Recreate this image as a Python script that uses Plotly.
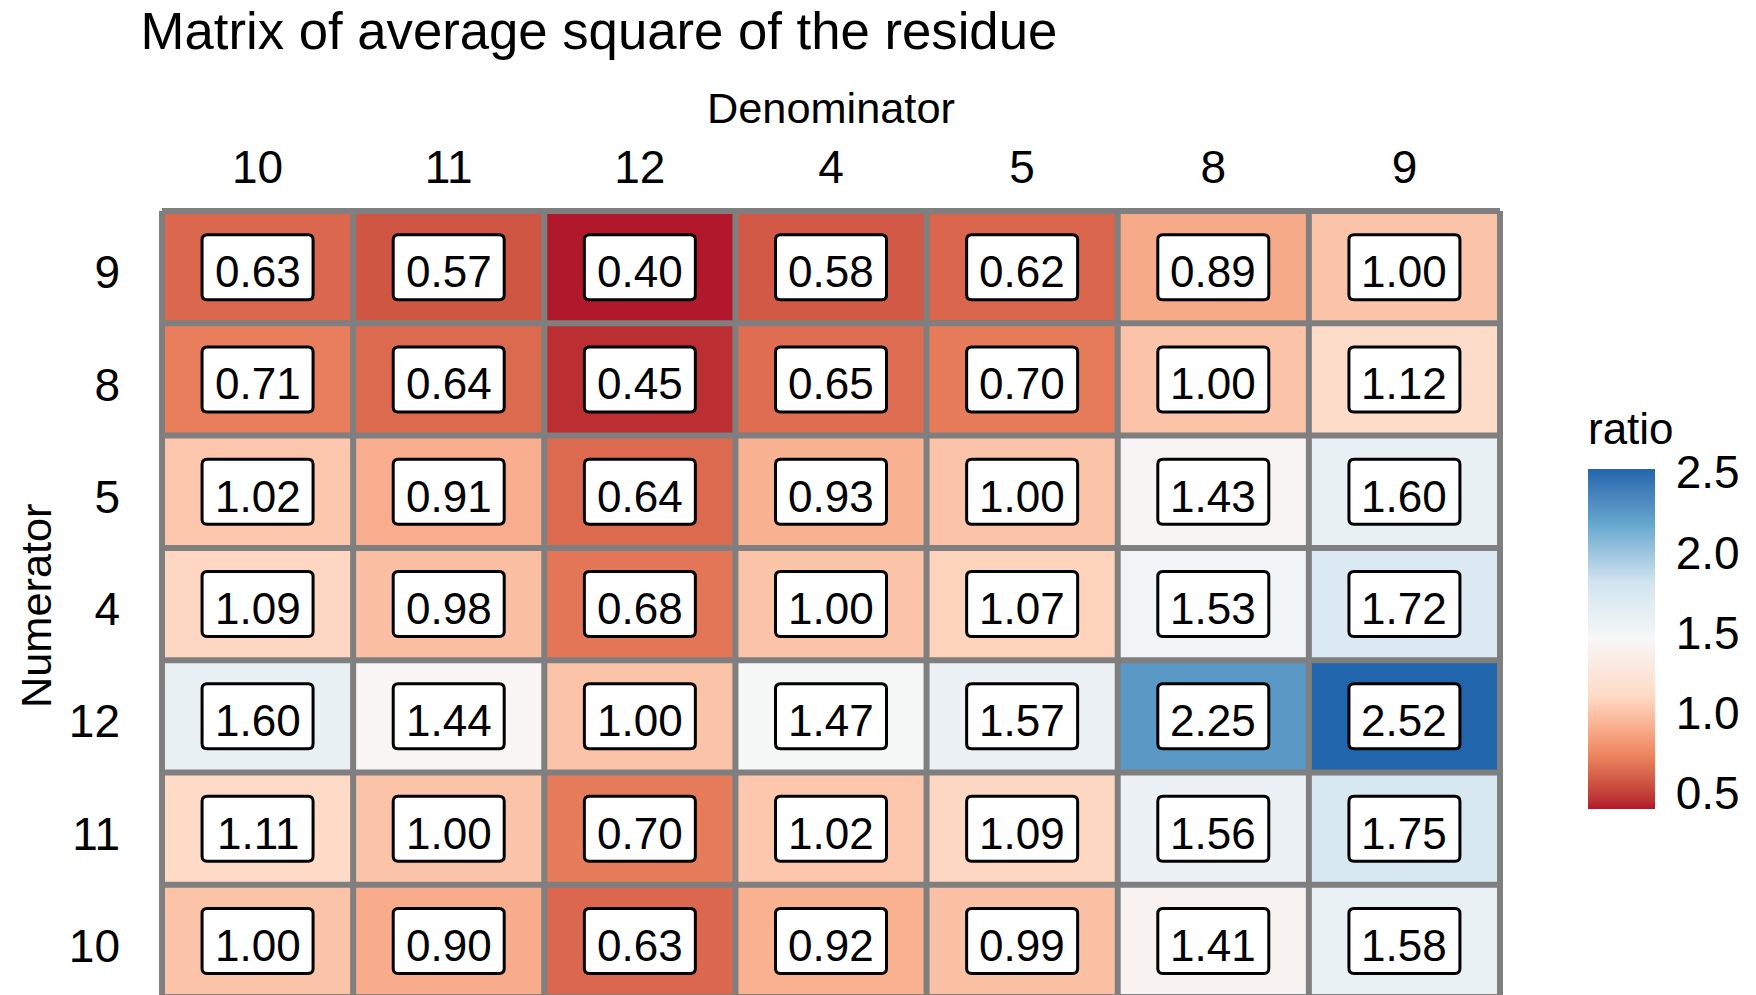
import numpy as np
import plotly.graph_objects as go

# ---------------- data ----------------
denominators = ["10", "11", "12", "4", "5", "8", "9"]
numerators = ["9", "8", "5", "4", "12", "11", "10"]  # top to bottom

row_9 = [0.63, 0.57, 0.40, 0.58, 0.62, 0.89, 1.00]
row_8 = [0.71, 0.64, 0.45, 0.65, 0.70, 1.00, 1.12]
row_5 = [1.02, 0.91, 0.64, 0.93, 1.00, 1.43, 1.60]
row_4 = [1.09, 0.98, 0.68, 1.00, 1.07, 1.53, 1.72]
row_12 = [1.60, 1.44, 1.00, 1.47, 1.57, 2.25, 2.52]
row_11 = [1.11, 1.00, 0.70, 1.02, 1.09, 1.56, 1.75]
row_10 = [1.00, 0.90, 0.63, 0.92, 0.99, 1.41, 1.58]

colorbar_ticks = [0.5, 1.0, 1.5, 2.0, 2.5]
colorbar_ticktext = ["0.5", "1.0", "1.5", "2.0", "2.5"]

z = np.array([row_9, row_8, row_5, row_4, row_12, row_11, row_10])
zmin, zmax = float(z.min()), float(z.max())

# ---------------- colour scale (RdBu, Lab interpolation like ggplot) ----------------
brewer = ["#B2182B", "#EF8A62", "#FDDBC7", "#F7F7F7", "#D1E5F0", "#67A9CF", "#2166AC"]


def hex2rgb(h):
    h = h.lstrip("#")
    return np.array([int(h[i:i + 2], 16) for i in (0, 2, 4)]) / 255.0


def srgb2lin(c):
    return np.where(c <= 0.04045, c / 12.92, ((c + 0.055) / 1.055) ** 2.4)


def lin2srgb(c):
    c = np.clip(c, 0, 1)
    return np.where(c <= 0.0031308, 12.92 * c, 1.055 * c ** (1 / 2.4) - 0.055)


M = np.array([[0.4124, 0.3576, 0.1805], [0.2126, 0.7152, 0.0722], [0.0193, 0.1192, 0.9505]])
Minv = np.linalg.inv(M)
WP = np.array([0.95047, 1.0, 1.08883])


def f(t):
    return np.where(t > (6 / 29) ** 3, np.cbrt(t), t / (3 * (6 / 29) ** 2) + 4 / 29)


def finv(t):
    return np.where(t > 6 / 29, t ** 3, 3 * (6 / 29) ** 2 * (t - 4 / 29))


def rgb2lab(rgb):
    xyz = M @ srgb2lin(rgb) / WP
    fx, fy, fz = f(xyz)
    return np.array([116 * fy - 16, 500 * (fx - fy), 200 * (fy - fz)])


def lab2rgb(lab):
    L, a, b = lab
    fy = (L + 16) / 116
    fx = fy + a / 500
    fz = fy - b / 200
    xyz = np.array([finv(fx), finv(fy), finv(fz)]) * WP
    return lin2srgb(Minv @ xyz)


labs = [rgb2lab(hex2rgb(h)) for h in brewer]
stops = np.linspace(0, 1, len(brewer))
colorscale = []
for p in np.linspace(0, 1, 97):
    k = min(int(p * (len(brewer) - 1)), len(brewer) - 2)
    t = (p - stops[k]) / (stops[k + 1] - stops[k])
    lab = labs[k] * (1 - t) + labs[k + 1] * t
    r, g, b = (np.round(lab2rgb(lab) * 255)).astype(int)
    colorscale.append([float(p), f"rgb({r},{g},{b})"])

# ---------------- geometry (pixels) ----------------
OFF = 8                      # page body margin that offsets the figure in the browser
W, H = 1756 - 2 * OFF, 995 - OFF
CELL_W, CELL_H, LINE = 191.2, 112.3, 6
PLOT_L, PLOT_T = 159 - OFF, 208 - OFF
ncol, nrow = len(denominators), len(numerators)
pad_x = (LINE / 2) / CELL_W
pad_y = (LINE / 2) / CELL_H
plot_w = ncol * CELL_W + LINE
plot_h = H - PLOT_T
x_range = [-0.5 - pad_x, ncol - 0.5 + pad_x]
y_top = -0.5 - pad_y
y_bottom = y_top + plot_h / CELL_H

BAR_L, BAR_W, BAR_BOTTOM, PX_PER_UNIT = 1588 - OFF, 67, 809 - OFF, 160.5


def px_to_paper_x(px):
    return (px - PLOT_L) / plot_w


def px_to_paper_y(py):
    return (H - py) / plot_h


FONT = "Liberation Sans, Arial, sans-serif"
GRAY = "#7F7F7F"
BLACK = "#000000"

fig = go.Figure()
fig.add_trace(go.Heatmap(
    z=z, x=list(range(ncol)), y=list(range(nrow)),
    colorscale=colorscale, zmin=zmin, zmax=zmax,
    hoverinfo="skip",
    colorbar=dict(
        xref="paper", yref="paper",
        x=px_to_paper_x(BAR_L), xanchor="left", y=px_to_paper_y(BAR_BOTTOM), yanchor="bottom",
        thickness=BAR_W, thicknessmode="pixels",
        len=(zmax - zmin) * PX_PER_UNIT, lenmode="pixels",
        xpad=0, ypad=0, outlinewidth=0,
        tickvals=colorbar_ticks, ticktext=colorbar_ticktext,
        ticks="outside", ticklen=12, tickwidth=1, tickcolor="rgba(0,0,0,0)",
        tickfont=dict(size=46, family=FONT, color=BLACK),
    ),
))

shapes = []
# grid lines
for i in range(ncol + 1):
    shapes.append(dict(type="line", xref="x", yref="y", x0=i - 0.5, x1=i - 0.5, y0=-0.5, y1=nrow - 0.5,
                       line=dict(color=GRAY, width=LINE), layer="above"))
for j in range(nrow + 1):
    shapes.append(dict(type="line", xref="x", yref="y", x0=-0.5, x1=ncol - 0.5, y0=j - 0.5, y1=j - 0.5,
                       line=dict(color=GRAY, width=LINE), layer="above"))

# rounded label boxes
hw, hh, r = 55.5, 32.5, 5
box_path = (f"M {-hw + r},{-hh} L {hw - r},{-hh} Q {hw},{-hh} {hw},{-hh + r} "
            f"L {hw},{hh - r} Q {hw},{hh} {hw - r},{hh} L {-hw + r},{hh} "
            f"Q {-hw},{hh} {-hw},{hh - r} L {-hw},{-hh + r} Q {-hw},{-hh} {-hw + r},{-hh} Z")
annotations = []
for j in range(nrow):
    for i in range(ncol):
        shapes.append(dict(type="path", xref="x", yref="y", xsizemode="pixel", ysizemode="pixel",
                           xanchor=i, yanchor=j, path=box_path,
                           fillcolor="white", line=dict(color="black", width=3), layer="above"))
        annotations.append(dict(x=i, y=j, xref="x", yref="y", text=f"{z[j, i]:.2f}", showarrow=False,
                                yshift=-4.5,
                                font=dict(size=44, family=FONT, color=BLACK)))

# axis titles
annotations.append(dict(x=0.5, y=px_to_paper_y(99.7), xref="paper", yref="paper",
                        xanchor="center", yanchor="middle", text="Denominator", showarrow=False,
                        font=dict(size=43.3, family=FONT, color=BLACK)))
annotations.append(dict(x=px_to_paper_x(28), y=px_to_paper_y(598), xref="paper", yref="paper",
                        xanchor="center", yanchor="middle", text="Numerator", showarrow=False,
                        textangle=-90, font=dict(size=43.3, family=FONT, color=BLACK)))
# colorbar title
annotations.append(dict(x=px_to_paper_x(BAR_L - 2), y=px_to_paper_y(420), xref="paper", yref="paper",
                        xanchor="left", yanchor="middle", text="ratio", showarrow=False,
                        font=dict(size=44, family=FONT, color=BLACK)))

# white colorbar ticks on both sides of bar
for v in colorbar_ticks:
    py = BAR_BOTTOM - (v - zmin) * PX_PER_UNIT
    yp = px_to_paper_y(py)
    for xa, xb in ((BAR_L, BAR_L + 11), (BAR_L + BAR_W - 11, BAR_L + BAR_W)):
        shapes.append(dict(type="line", xref="paper", yref="paper",
                           x0=px_to_paper_x(xa), x1=px_to_paper_x(xb), y0=yp, y1=yp,
                           line=dict(color="white", width=3), layer="above"))

fig.update_layout(
    width=W, height=H,
    margin=dict(l=PLOT_L, r=W - PLOT_L - plot_w, t=PLOT_T, b=0, pad=0, autoexpand=False),
    paper_bgcolor="white", plot_bgcolor="white",
    font=dict(family=FONT, color=BLACK),
    title=dict(text="Matrix of average square of the residue", x=132.6 / W, xanchor="left",
               xref="container", yref="container", y=1 - 22.5 / H, yanchor="middle",
               font=dict(size=52.7, family=FONT, color=BLACK), automargin=False),
    xaxis=dict(range=x_range, side="top", tickvals=list(range(ncol)), ticktext=denominators,
               showgrid=False, zeroline=False, showline=False, ticks="", automargin=False,
               tickfont=dict(size=46, family=FONT, color=BLACK), ticklabelstandoff=15),
    yaxis=dict(range=[y_bottom, y_top], tickvals=list(range(nrow)), ticktext=numerators,
               showgrid=False, zeroline=False, showline=False, ticks="", automargin=False,
               tickfont=dict(size=46, family=FONT, color=BLACK), ticklabelstandoff=38,
               ticklabelshift=-5),
    shapes=shapes, annotations=annotations,
)

fig.write_html("out.html")
